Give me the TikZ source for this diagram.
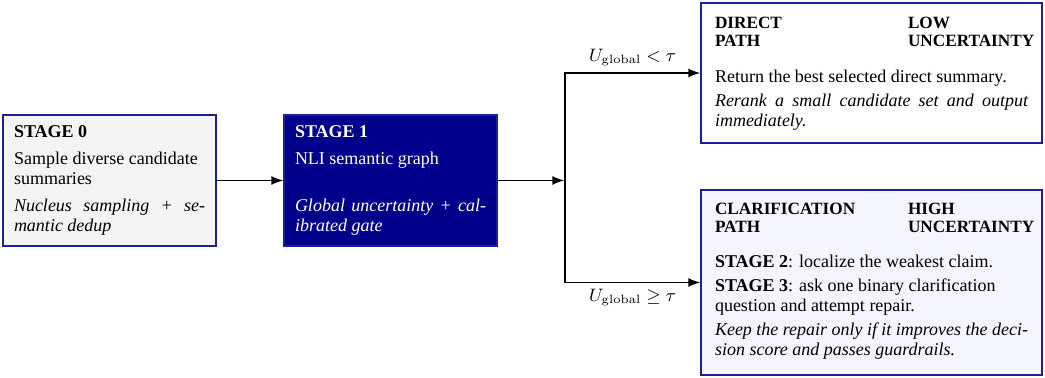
\documentclass[tikz,border=0pt]{standalone}
\usepackage[no-math]{fontspec}
\setmainfont{Liberation Serif}
\newfontfamily\headfam{Liberation Serif}[Scale=0.956]
\usetikzlibrary{arrows.meta}
\definecolor{bordc}{RGB}{30,30,150}
\definecolor{navyfill}{RGB}{0,0,139}
\definecolor{grayfill}{RGB}{244,244,244}
\definecolor{clarfill}{RGB}{245,245,255}
\newcommand{\bodyfont}{\fontsize{9}{10}\selectfont}
\newcommand{\headfont}{\headfam\fontsize{9}{9}\selectfont\bfseries}
\newcommand{\justit}{\itshape\rightskip=0pt\parfillskip=0pt plus 1fil}
\begin{document}
\begin{tikzpicture}[x=0.5pt,y=-0.5pt,
  boxbase/.style={draw=bordc, line width=0.7pt, inner sep=0pt, anchor=center},
  conn/.style={line width=0.7pt, -{Latex[length=6pt,width=4.5pt]}},
  lbl/.style={font=\bodyfont, inner sep=3pt}]
\useasboundingbox (0,0) rectangle (1045,378);

% Stage 0
\node[boxbase, fill=grayfill, minimum width=106.5pt, minimum height=65.5pt,
      inner xsep=5.5pt, inner ysep=5.4pt] (s0) at (109.5,180.5)
 {\begin{minipage}[c][54.7pt][t]{95.5pt}\bodyfont\setlength{\parskip}{3.5pt}\setlength{\parindent}{0pt}%
 \textbf{STAGE 0}\par
 Sample diverse candidate\\summaries\par
 {\justit Nucleus sampling + se-\linebreak mantic dedup\par}
 \end{minipage}};

% Stage 1
\node[boxbase, fill=navyfill, text=white, minimum width=106.5pt, minimum height=65.5pt,
      inner xsep=5.5pt, inner ysep=5.4pt] (s1) at (390.5,180.5)
 {\begin{minipage}[c][54.7pt][t]{95.5pt}\bodyfont\setlength{\parskip}{3.5pt}\setlength{\parindent}{0pt}%
 \textbf{STAGE 1}\par
 NLI semantic graph\\\mbox{}\par
 {\justit Global uncertainty + cal-\linebreak ibrated gate\par}
 \end{minipage}};

% Direct path
\node[boxbase, fill=white, minimum width=170.5pt, minimum height=70pt,
      inner xsep=7pt, inner ysep=7pt] (dp) at (871.5,73)
 {\begin{minipage}[c][56pt][t]{156.5pt}\setlength{\parskip}{2pt}\setlength{\parindent}{0pt}%
 {\headfont\makebox[96.5pt][l]{DIRECT}LOW\\
 \makebox[96.5pt][l]{PATH}UNCERTAINTY\par}
 \vspace{6pt}\bodyfont
 Return the best selected direct summary.\par
 {\justit Rerank a small candidate set and output\linebreak immediately.\par}
 \end{minipage}};

% Clarification path
\node[boxbase, fill=clarfill, minimum width=170.5pt, minimum height=92.5pt,
      inner xsep=7pt, inner ysep=6.5pt] (cp) at (871.5,282.5)
 {\begin{minipage}[c][79.5pt][t]{156.5pt}\setlength{\parskip}{2pt}\setlength{\parindent}{0pt}%
 {\headfont\makebox[96.5pt][l]{CLARIFICATION}HIGH\\
 \makebox[96.5pt][l]{PATH}UNCERTAINTY\par}
 \vspace{5.5pt}\bodyfont
 \textbf{STAGE 2}: localize the weakest claim.\par
 \textbf{STAGE 3}: ask one binary clarification\\question and attempt repair.\par
 {\justit Keep the repair only if it improves the deci-\linebreak sion score and passes guardrails.\par}
 \end{minipage}};

\coordinate (J) at (565,180.5);

\draw[conn] (s0.east) -- (s1.west);
\draw[conn, shorten >=0.35pt] (s1.east) -- (J);
\draw[conn] (J) |- node[lbl, pos=0.75, above] {$U_{\mathrm{global}} < \tau$} (dp.west);
\draw[conn] (J) |- node[lbl, pos=0.75, below] {$U_{\mathrm{global}} \geq \tau$} (cp.west);
\end{tikzpicture}
\end{document}
